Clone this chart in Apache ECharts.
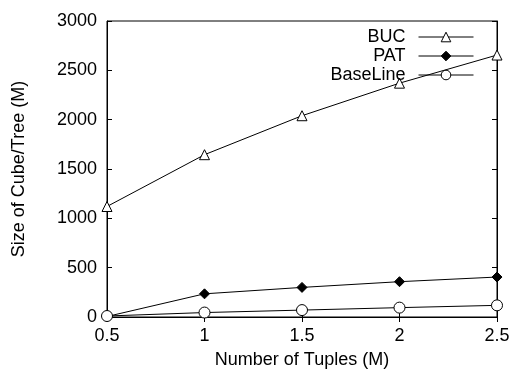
<!DOCTYPE html>
<html>
<head>
<meta charset="utf-8">
<script src="https://cdn.jsdelivr.net/npm/echarts@6/dist/echarts.min.js"></script>
<style>html,body{margin:0;padding:0;background:#fff;}#c{width:513px;height:374px;}</style>
</head>
<body>
<div id="c"></div>
<script>
var tuples = [0.5, 1, 1.5, 2, 2.5];
var buc = [1120, 1645, 2040, 2370, 2655];
var pat = [5, 235, 300, 358, 405];
var baseline = [10, 45, 70, 95, 118];
var seriesNames = ['BUC', 'PAT', 'BaseLine'];
var xTitle = 'Number of Tuples (M)';
var yTitle = 'Size of Cube/Tree (M)';

var FONT = '"Liberation Sans", Arial, sans-serif';
function pairs(ys) { return tuples.map(function (x, i) { return [x, ys[i]]; }); }
var chart = echarts.init(document.getElementById('c'), null, { renderer: 'canvas' });
var lineStyle = { color: '#000', width: 1 };
var common = {
  type: 'line', lineStyle: lineStyle, symbolSize: 10, animation: false,
  itemStyle: { color: '#fff', borderColor: '#000', borderWidth: 1 }
};
function plain(v) { return String(v); }
chart.setOption({
  animation: false,
  grid: { left: 107, right: 16, top: 21, bottom: 57, show: true, borderColor: '#000', borderWidth: 1 },
  legend: {
    orient: 'vertical', right: 34, top: 23, align: 'right', itemGap: 1,
    itemWidth: 55, itemHeight: 12,
    itemStyle: { borderWidth: 1 },
    lineStyle: { width: 1 },
    textStyle: { fontFamily: FONT, fontSize: 18, color: '#000', padding: [0, 8, 0, 0] },
    data: seriesNames
  },
  xAxis: [{
    type: 'value', min: 0.5, max: 2.5, interval: 0.5,
    name: xTitle, nameLocation: 'middle', nameGap: 34,
    nameTextStyle: { fontFamily: FONT, fontSize: 18, color: '#000' },
    axisLine: { lineStyle: { color: '#000' } },
    axisTick: { inside: true, length: 5, lineStyle: { color: '#000' } },
    axisLabel: { fontFamily: FONT, fontSize: 18, color: '#000', margin: 10, formatter: plain },
    splitLine: { show: false }
  }, {
    type: 'value', position: 'top', min: 0.5, max: 2.5, interval: 0.5,
    axisLine: { lineStyle: { color: '#000' } },
    axisTick: { inside: true, length: 5, lineStyle: { color: '#000' } },
    axisLabel: { show: false }, splitLine: { show: false }
  }],
  yAxis: [{
    type: 'value', min: 0, max: 3000, interval: 500,
    name: yTitle, nameLocation: 'middle', nameGap: 79, nameRotate: 90,
    nameTextStyle: { fontFamily: FONT, fontSize: 18, color: '#000' },
    axisLine: { show: true, lineStyle: { color: '#000' } },
    axisTick: { show: true, inside: true, length: 5, lineStyle: { color: '#000' } },
    axisLabel: { fontFamily: FONT, fontSize: 18, color: '#000', margin: 10, formatter: plain },
    splitLine: { show: false }
  }, {
    type: 'value', position: 'right', min: 0, max: 3000, interval: 500,
    axisLine: { show: true, lineStyle: { color: '#000' } },
    axisTick: { show: true, inside: true, length: 5, lineStyle: { color: '#000' } },
    axisLabel: { show: false }, splitLine: { show: false }
  }],
  series: [
    Object.assign({}, common, { name: seriesNames[0], symbol: 'triangle', data: pairs(buc) }),
    Object.assign({}, common, { name: seriesNames[1], symbol: 'diamond', symbolSize: 10,
      itemStyle: { color: '#000', borderColor: '#000', borderWidth: 1 }, data: pairs(pat) }),
    Object.assign({}, common, { name: seriesNames[2], symbol: 'circle', symbolSize: 11, data: pairs(baseline) })
  ]
});
</script>
</body>
</html>
